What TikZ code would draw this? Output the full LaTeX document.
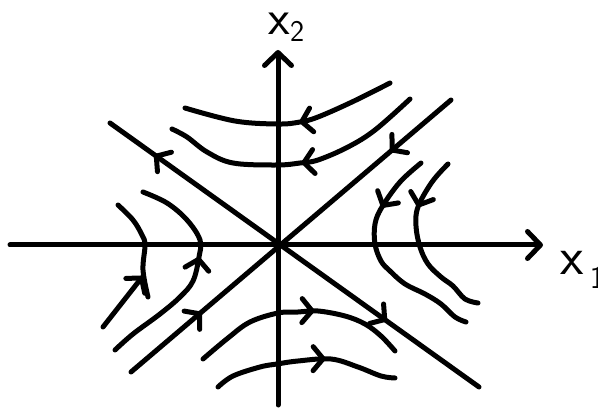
\documentclass[tikz,border=0pt]{standalone}
\usepackage{fontspec}
\usetikzlibrary{arrows.meta,decorations.markings}

\begin{document}
\begin{tikzpicture}[
    x=1pt, y=-1pt,
    line width=5pt, line cap=round, line join=round,
    hand/.tip={Straight Barb[length=10pt,width=24pt,round]},
    axis/.style={-{Straight Barb[length=13pt,width=27pt,round]}},
    traj/.style={smooth, tension=0.6},
    fwd/.style={postaction={decorate,decoration={markings,mark=at position #1 with {\arrow{hand}}}}},
    bwd/.style={postaction={decorate,decoration={markings,mark=at position #1 with {\arrowreversed{hand}}}}},
    lbl/.style={inner sep=0pt, anchor=base west, font=\sffamily, text height=23pt, text depth=8pt}
]
\useasboundingbox (0,0) rectangle (598,409);

\coordinate (origin) at (278,245);
\coordinate (west) at (10,245);
\coordinate (east) at (543,245);
\coordinate (south) at (278,405);
\coordinate (north) at (278,50);

\draw (west) -- (origin);
\draw[axis] (origin) -- (east);
\draw (south) -- (origin);
\draw[axis] (origin) -- (north);

\node[lbl, font=\sffamily\fontsize{54}{56}\selectfont] (xone) at (558,275)
    {x\hspace{6pt}\raisebox{-14pt}{\fontsize{32}{34}\selectfont 1}};
\node[lbl, font=\sffamily\fontsize{50}{52}\selectfont] (xtwo) at (266,35)
    {x\raisebox{-7pt}{\fontsize{30}{32}\selectfont 2}};

% eigen directions
\coordinate (nw) at (110,123);
\coordinate (se) at (479,387);
\coordinate (ne) at (451,100);
\coordinate (sw) at (131,372);
\draw[bwd=0.12, fwd=0.75] (nw) -- (se);
\draw[fwd=0.19, bwd=0.78] (ne) -- (sw);

% trajectories
\draw[fwd=0.46] plot[traj] coordinates {(390,83) (352,102) (318,117) (300,122) (278,124) (235,121) (185,108)};
\draw[fwd=0.48] plot[traj] coordinates {(410,99) (375,130) (348,147) (318,160) (300,163) (277,165) (233,163) (207,152) (187,137) (172,129)};

\draw[fwd=0.27] plot[traj] coordinates {(421,163) (400,182) (382,207) (375,224) (375,244) (381,261) (390,271) (405,284) (425,294) (441,304) (455,317) (466,322)};
\draw[fwd=0.30] plot[traj] coordinates {(448,164) (432,182) (418,207) (416,226) (420,247) (428,264) (441,277) (453,286) (465,299) (478,303)};

\draw plot[traj] coordinates {(148,297) (143,270) (145,245) (142,235) (133,220) (118,205)};
\draw[-hand] (103,327) -- (143,276);
\draw[fwd=0.58] plot[traj] coordinates {(115,350) (133,334) (160,314) (180,297) (193,281) (199,257) (200,240) (187,220) (167,203) (143,192)};

\draw[fwd=0.575] plot[traj] coordinates {(203,359) (228,338) (250,322) (278,313) (298,312) (318,311) (345,316) (365,324) (381,336) (395,351)};
\draw[fwd=0.61] plot[traj] coordinates {(218,387) (233,376) (260,367) (277,364) (298,361) (331,359) (358,367) (381,376) (395,378)};
\end{tikzpicture}
\end{document}
